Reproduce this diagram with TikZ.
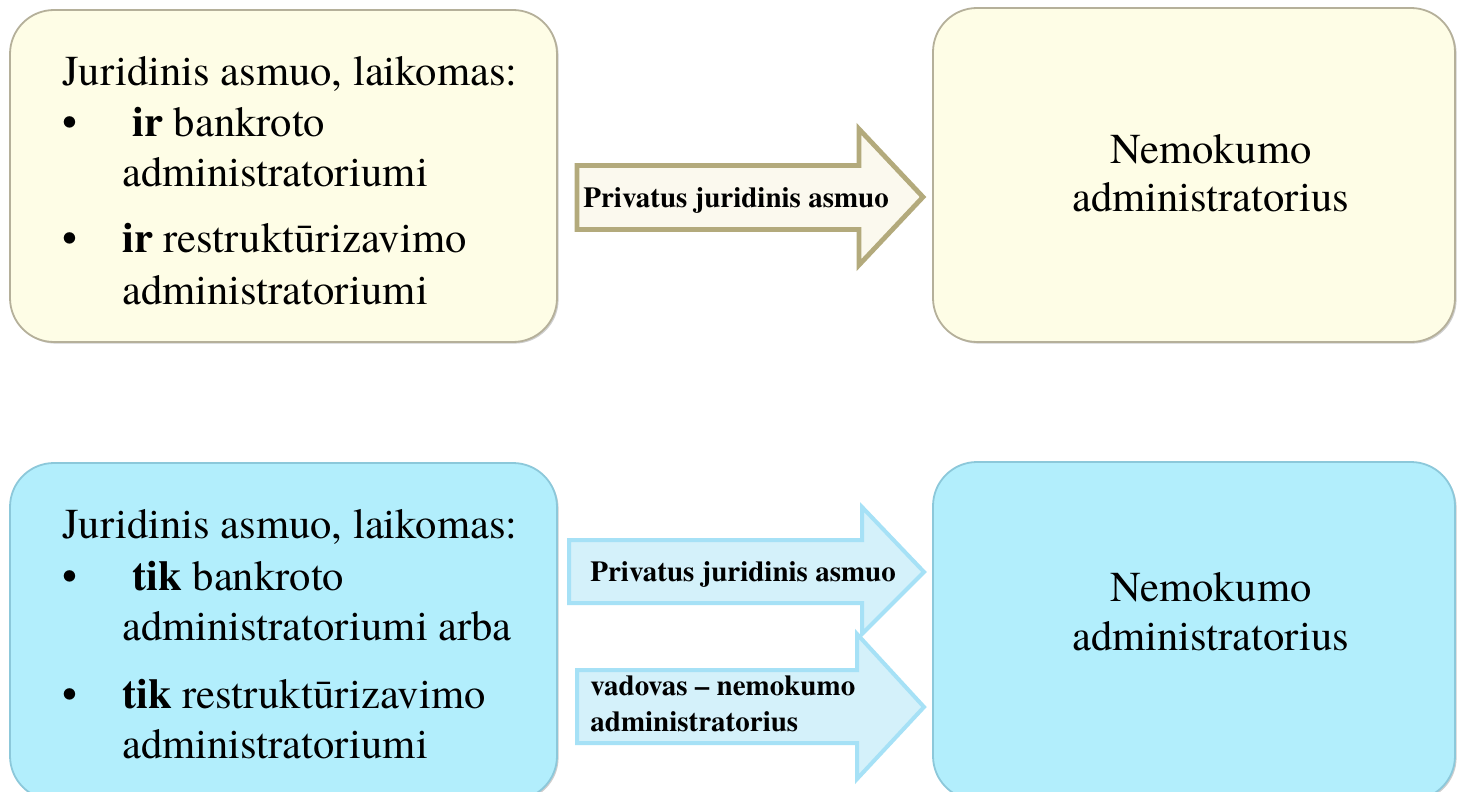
\documentclass[tikz,border=0pt]{standalone}
\usepackage{fontspec}
\setmainfont{texgyretermes}[Extension=.otf, UprightFont=*-regular, BoldFont=*-bold, ItalicFont=*-italic, BoldItalicFont=*-bolditalic]
\usetikzlibrary{shadows}
\definecolor{yfill}{HTML}{FEFDE6}
\definecolor{yedge}{HTML}{B5B09A}
\definecolor{bfill}{HTML}{B2EEFC}
\definecolor{bedge}{HTML}{8CC8DA}
\definecolor{yarrowline}{HTML}{B3AA7C}
\definecolor{yarrowfill}{HTML}{FBF9EE}
\definecolor{barrowline}{HTML}{A6E1F6}
\definecolor{barrowfill}{HTML}{D4F1FA}
\tikzset{
  roundbox/.style={rectangle, rounded corners=22pt, line width=0.9pt, inner sep=0pt,
    drop shadow={shadow xshift=0.8pt, shadow yshift=-0.8pt, opacity=0.35, fill=black!55}},
  ybox/.style={roundbox, fill=yfill, draw=yedge},
  bbox/.style={roundbox, fill=bfill, draw=bedge},
  boxtext/.style={inner sep=0pt, anchor=base west, font=\fontsize{21.3}{25}\selectfont},
  boxtextc/.style={inner sep=0pt, anchor=base, font=\fontsize{21.3}{25}\selectfont},
  arrowtext/.style={inner sep=0pt, anchor=base west, font=\fontsize{14.5}{17.5}\selectfont\bfseries},
  yarrow/.style={draw=yarrowline, fill=yarrowfill, line width=2.4pt, line join=miter},
  barrow/.style={draw=barrowline, fill=barrowfill, line width=2pt, line join=miter}
}
\begin{document}
\begin{tikzpicture}[x=0.5pt, y=-0.5pt]
\useasboundingbox (0,0) rectangle (1458,792);
\clip (0,0) rectangle (1458,792);
\fill[white] (0,0) rectangle (1458,792);

% boxes
\node[ybox, minimum width=273.5pt, minimum height=166pt] (tl) at (283.5,176) {};
\node[ybox, minimum width=261pt, minimum height=167pt] (tr) at (1194,175) {};
\node[bbox, minimum width=273.5pt, minimum height=168.5pt] (bl) at (283.5,631.5) {};
\node[bbox, minimum width=261pt, minimum height=169pt] (br) at (1194,631) {};

% top-left text
\node[boxtext] (tl1) at (62,86) {Juridinis asmuo, laikomas:};
\node[boxtext] (tlb1) at (62,137) {•};
\node[boxtext] (tl2) at (132,137) {\textbf{ir} bankroto};
\node[boxtext] (tl3) at (122,187) {administratoriumi};
\node[boxtext] (tlb2) at (62,253) {•};
\node[boxtext] (tl4) at (122,253) {\textbf{ir} restruktūrizavimo};
\node[boxtext] (tl5) at (122,305) {administratoriumi};

% bottom-left text
\node[boxtext] (bl1) at (62,538) {Juridinis asmuo, laikomas:};
\node[boxtext] (blb1) at (62,590) {•};
\node[boxtext] (bl2) at (132,590) {\textbf{tik} bankroto};
\node[boxtext] (bl3) at (122,640) {administratoriumi arba};
\node[boxtext] (blb2) at (62,708) {•};
\node[boxtext] (bl4) at (122,708) {\textbf{tik} restruktūrizavimo};
\node[boxtext] (bl5) at (122,758) {administratoriumi};

% right texts
\node[boxtextc] (tr1) at (1211,163) {Nemokumo};
\node[boxtextc] (tr2) at (1211,212) {administratorius};
\node[boxtextc] (br1) at (1211,601) {Nemokumo};
\node[boxtextc] (br2) at (1211,650) {administratorius};

% block arrows
\draw[yarrow] (577,165.5) -- (859,165.5) -- (859,129) -- (923,197) -- (859,265) -- (859,229.5) -- (577,229.5) -- cycle;
\node[arrowtext] (a1) at (583,207) {Privatus juridinis asmuo};

\draw[barrow] (569,540) -- (862,540) -- (862,507) -- (924,572) -- (862,634) -- (862,603) -- (569,603) -- cycle;
\node[arrowtext] (a2) at (590,581) {Privatus juridinis asmuo};

\draw[barrow] (577,670) -- (857,670) -- (857,634) -- (924,707) -- (857,779) -- (857,743) -- (577,743) -- cycle;
\node[arrowtext] (a3a) at (590,695) {vadovas – nemokumo};
\node[arrowtext] (a3b) at (590,731) {administratorius};
\end{tikzpicture}
\end{document}
